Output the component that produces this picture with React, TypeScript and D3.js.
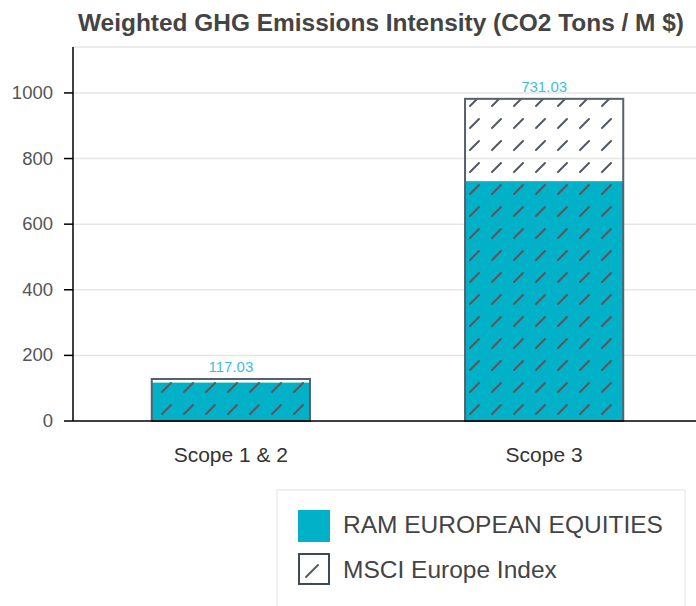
import React from "react"
import * as d3 from "d3"

const categories = ["Scope 1 & 2", "Scope 3"]
const ramValues = [117.03, 731.03]
const msciValues = [128, 982]
const yTicks = [0, 200, 400, 600, 800, 1000]
const seriesNames = ["RAM EUROPEAN EQUITIES", "MSCI Europe Index"]

const W = 696
const H = 606
const teal = "#00b1c8"
const hatchStroke = "#4f5a64"
const font = "Arial, 'Liberation Sans', Helvetica, sans-serif"

export default function App() {
  const margin = { top: 47, left: 73, bottom: 421, right: 700 }
  const y = d3.scaleLinear().domain([0, 1140]).range([margin.bottom, margin.top])
  const x = d3
    .scaleBand()
    .domain(categories)
    .range([margin.left + 2, margin.right])
    .paddingInner(0.495)
    .paddingOuter(0.245)

  return (
    <svg
      width={W}
      height={H}
      style={{ position: "absolute", left: 0, top: 0, background: "#fff", fontFamily: font }}
    >
      <defs>
        <pattern id="hatch" patternUnits="userSpaceOnUse" width={22} height={22} x={4} y={2}>
          <line x1={4} y1={16} x2={13} y2={7} stroke={hatchStroke} strokeWidth={2} strokeLinecap="round" />
        </pattern>
      </defs>

      <text
        x={78}
        y={31}
        fontWeight="bold"
        fontSize={23}
        fill="#444"
        textLength={606}
        lengthAdjust="spacingAndGlyphs"
      >
        Weighted GHG Emissions Intensity (CO2 Tons / M $)
      </text>

      {/* grid */}
      <line x1={margin.left} x2={W} y1={margin.top} y2={margin.top} stroke="#e6e6e6" strokeWidth={1.5} />
      {yTicks.slice(1).map(t => (
        <line key={t} x1={margin.left} x2={W} y1={y(t)} y2={y(t)} stroke="#e6e6e6" strokeWidth={1.5} />
      ))}

      {/* bars */}
      {categories.map((c, i) => (
        <g key={c}>
          <rect
            x={x(c)}
            y={y(ramValues[i])}
            width={x.bandwidth()}
            height={y(0) - y(ramValues[i])}
            fill={teal}
          />
          <rect
            x={x(c)}
            y={y(msciValues[i])}
            width={x.bandwidth()}
            height={y(0) - y(msciValues[i])}
            fill="url(#hatch)"
            stroke="#56616b"
            strokeWidth={2}
          />
          <text
            x={(x(c) as number) + x.bandwidth() / 2}
            y={y(msciValues[i]) - 7}
            textAnchor="middle"
            fontSize={15}
            fill="#3fc0d6"
          >
            {ramValues[i].toFixed(2)}
          </text>
          <text
            x={(x(c) as number) + x.bandwidth() / 2}
            y={462}
            textAnchor="middle"
            fontSize={21}
            fill="#333"
          >
            {c}
          </text>
        </g>
      ))}

      {/* axes */}
      <line x1={margin.left} x2={margin.left} y1={margin.top} y2={margin.bottom} stroke="#000" strokeWidth={1.5} />
      <line x1={margin.left} x2={W} y1={margin.bottom} y2={margin.bottom} stroke="#000" strokeWidth={1.5} />
      {yTicks.map(t => (
        <g key={t}>
          <line x1={margin.left - 9} x2={margin.left} y1={y(t)} y2={y(t)} stroke="#000" strokeWidth={1.5} />
          <text x={margin.left - 20} y={y(t) + 6} textAnchor="end" fontSize={18.5} fill="#555">
            {t}
          </text>
        </g>
      ))}

      {/* legend */}
      <rect x={277} y={490} width={408} height={130} fill="#fff" stroke="#ececec" strokeWidth={1.5} />
      <rect x={298} y={510} width={32} height={32} fill={teal} />
      <text x={343} y={533} fontSize={24.5} fill="#444">{seriesNames[0]}</text>
      <rect x={299} y={554} width={30} height={30} fill="#fff" stroke="#3f4a55" strokeWidth={2} />
      <line x1={306} y1={577} x2={318} y2={565} stroke={hatchStroke} strokeWidth={2} strokeLinecap="round" />
      <text x={343} y={578} fontSize={24.5} fill="#444">{seriesNames[1]}</text>
    </svg>
  )
}
